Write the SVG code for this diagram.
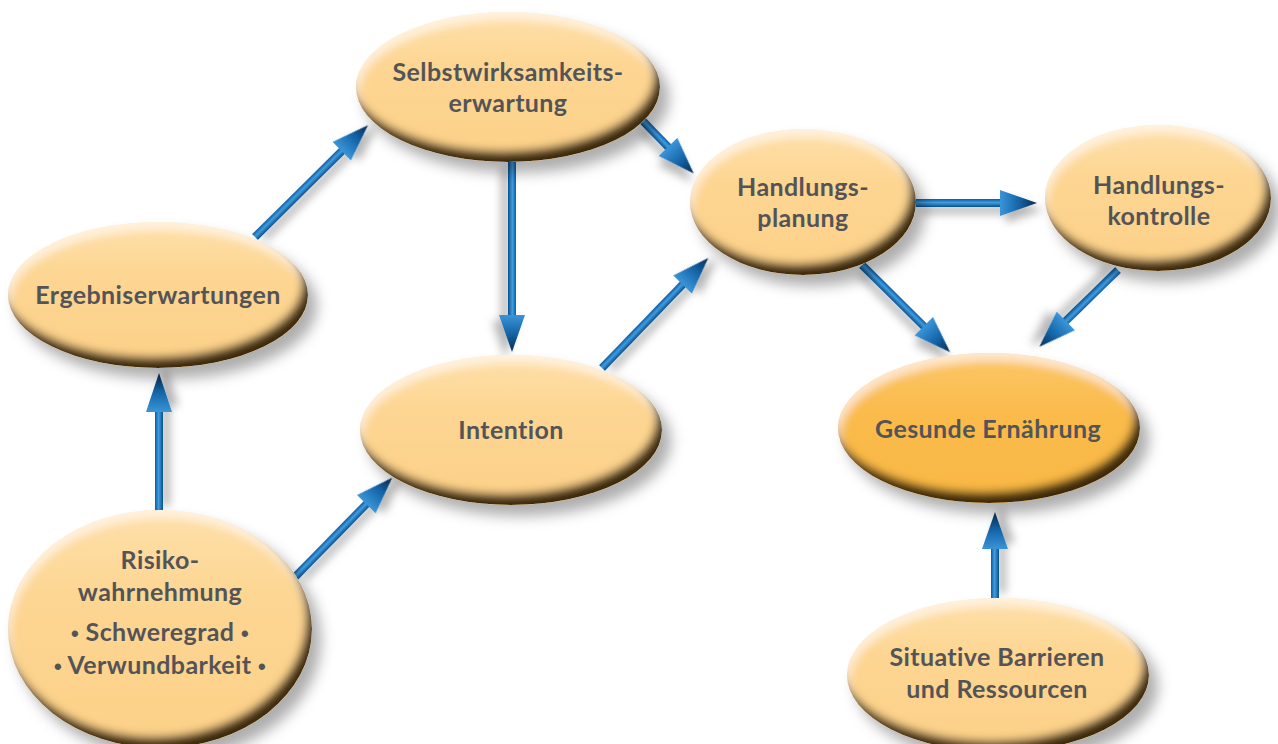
<svg xmlns="http://www.w3.org/2000/svg" width="1278" height="744" viewBox="0 0 1278 744">
<style>
.t{font-family:Lato,"Open Sans","Liberation Sans",sans-serif;font-weight:bold;font-size:25px;letter-spacing:0.4px;fill:#545457;text-anchor:middle}
.b{font-family:"Liberation Sans",sans-serif;font-size:22px}
.n{fill:url(#ng)}
.g{fill:url(#gg)}
</style>
<defs>
<linearGradient id="ng" x1="0" y1="0" x2="0" y2="1">
<stop offset="0" stop-color="#FEE0AA"/><stop offset="0.35" stop-color="#FDD693"/><stop offset="1" stop-color="#FCD088"/>
</linearGradient>
<linearGradient id="gg" x1="0" y1="0" x2="0" y2="1">
<stop offset="0" stop-color="#FCC667"/><stop offset="0.4" stop-color="#FABB4C"/><stop offset="1" stop-color="#F9B845"/>
</linearGradient>
<linearGradient id="shaft" x1="0" y1="0" x2="0" y2="1">
<stop offset="0" stop-color="#0d5a9e"/><stop offset="0.45" stop-color="#3f9de0"/><stop offset="1" stop-color="#0b4f8e"/>
</linearGradient>
<linearGradient id="head" x1="0" y1="0" x2="1" y2="0">
<stop offset="0" stop-color="#3a95d8"/><stop offset="0.5" stop-color="#1465a8"/><stop offset="1" stop-color="#082c55"/>
</linearGradient>
<filter id="nf" x="-20%" y="-20%" width="150%" height="150%">
<feGaussianBlur in="SourceAlpha" stdDeviation="7" result="db"/>
<feOffset in="db" dx="9" dy="11" result="do"/>
<feFlood flood-color="#000" flood-opacity="0.32"/>
<feComposite in2="do" operator="in" result="drop"/>
<feOffset in="SourceAlpha" dx="-6" dy="-11" result="o1"/>
<feGaussianBlur in="o1" stdDeviation="4" result="b1"/>
<feComposite in="SourceAlpha" in2="b1" operator="out" result="rim"/>
<feFlood flood-color="#3e2a0e" flood-opacity="1"/>
<feComposite in2="rim" operator="in" result="rimc"/>
<feOffset in="SourceAlpha" dx="2" dy="8" result="o2"/>
<feGaussianBlur in="o2" stdDeviation="4" result="b2"/>
<feComposite in="SourceAlpha" in2="b2" operator="out" result="hl"/>
<feFlood flood-color="#fff" flood-opacity="0.55"/>
<feComposite in2="hl" operator="in" result="hlc"/>
<feMerge><feMergeNode in="drop"/><feMergeNode in="SourceGraphic"/><feMergeNode in="hlc"/><feMergeNode in="rimc"/></feMerge>
</filter>
<filter id="af" x="-30%" y="-60%" width="160%" height="220%">
<feGaussianBlur in="SourceAlpha" stdDeviation="4" result="b"/>
<feOffset in="b" dx="6" dy="7" result="o"/>
<feFlood flood-color="#000" flood-opacity="0.28"/>
<feComposite in2="o" operator="in" result="s"/>
<feMerge><feMergeNode in="s"/><feMergeNode in="SourceGraphic"/></feMerge>
</filter>
</defs>
<rect width="1278" height="744" fill="#fff"/>
<g id="connectors">
<g transform="translate(255,237) rotate(-44.7)" filter="url(#af)"><path d="M0,-4 H124 V4 H0 Z" fill="url(#shaft)"/><path d="M122,-13 L159,0 L122,13 Z" fill="url(#head)"/></g>
<g transform="translate(643,121) rotate(46)" filter="url(#af)"><path d="M0,-4 H38 V4 H0 Z" fill="url(#shaft)"/><path d="M36,-13 L73,0 L36,13 Z" fill="url(#head)"/></g>
<g transform="translate(512,162) rotate(90)" filter="url(#af)"><path d="M0,-4 H155 V4 H0 Z" fill="url(#shaft)"/><path d="M153,-13 L190,0 L153,13 Z" fill="url(#head)"/></g>
<g transform="translate(602,368) rotate(-46)" filter="url(#af)"><path d="M0,-4 H118 V4 H0 Z" fill="url(#shaft)"/><path d="M116,-13 L153,0 L116,13 Z" fill="url(#head)"/></g>
<g transform="translate(915,203)" filter="url(#af)"><path d="M0,-4 H87 V4 H0 Z" fill="url(#shaft)"/><path d="M85,-13 L122,0 L85,13 Z" fill="url(#head)"/></g>
<g transform="translate(862,265) rotate(44.7)" filter="url(#af)"><path d="M0,-4 H89 V4 H0 Z" fill="url(#shaft)"/><path d="M87,-13 L124,0 L87,13 Z" fill="url(#head)"/></g>
<g transform="translate(1118,270) rotate(135.7)" filter="url(#af)"><path d="M0,-4 H75 V4 H0 Z" fill="url(#shaft)"/><path d="M73,-13 L110,0 L73,13 Z" fill="url(#head)"/></g>
<g transform="translate(159,512) rotate(-90)" filter="url(#af)"><path d="M0,-4 H102 V4 H0 Z" fill="url(#shaft)"/><path d="M100,-13 L139,0 L100,13 Z" fill="url(#head)"/></g>
<g transform="translate(295,577) rotate(-45.6)" filter="url(#af)"><path d="M0,-4 H104 V4 H0 Z" fill="url(#shaft)"/><path d="M102,-13 L139,0 L102,13 Z" fill="url(#head)"/></g>
<g transform="translate(995,599) rotate(-90)" filter="url(#af)"><path d="M0,-4 H52 V4 H0 Z" fill="url(#shaft)"/><path d="M50,-13 L87,0 L50,13 Z" fill="url(#head)"/></g>
</g>
<g id="selbstwirksamkeit">
<ellipse class="n" cx="508" cy="87" rx="152" ry="75" filter="url(#nf)"/>
<text class="t" x="508" y="81">Selbstwirksamkeits-</text>
<text class="t" x="508" y="112">erwartung</text>
</g>
<g id="handlungsplanung">
<ellipse class="n" cx="803" cy="202" rx="113" ry="73" filter="url(#nf)"/>
<text class="t" x="803" y="196">Handlungs-</text>
<text class="t" x="803" y="227">planung</text>
</g>
<g id="handlungskontrolle">
<ellipse class="n" cx="1158" cy="198" rx="113" ry="73" filter="url(#nf)"/>
<text class="t" x="1159" y="194">Handlungs-</text>
<text class="t" x="1159" y="225">kontrolle</text>
</g>
<g id="ergebniserwartungen">
<ellipse class="n" cx="158" cy="295" rx="150" ry="73" filter="url(#nf)"/>
<text class="t" x="158" y="304">Ergebniserwartungen</text>
</g>
<g id="intention">
<ellipse class="n" cx="511" cy="430" rx="151" ry="75" filter="url(#nf)"/>
<text class="t" x="511" y="439">Intention</text>
</g>
<g id="gesunde-ernaehrung">
<ellipse class="g" cx="989" cy="428" rx="151" ry="75" filter="url(#nf)"/>
<text class="t" x="988" y="438">Gesunde Ernährung</text>
</g>
<g id="risikowahrnehmung">
<ellipse class="n" cx="160" cy="629" rx="152" ry="119" filter="url(#nf)"/>
<text class="t" x="160" y="569">Risiko-</text>
<text class="t" x="160" y="601">wahrnehmung</text>
<text class="t" x="160" y="641"><tspan class="b">•</tspan> Schweregrad <tspan class="b">•</tspan></text>
<text class="t" x="160" y="674"><tspan class="b">•</tspan> Verwundbarkeit <tspan class="b">•</tspan></text>
</g>
<g id="situative-barrieren">
<ellipse class="n" cx="998" cy="675" rx="151" ry="77" filter="url(#nf)"/>
<text class="t" x="997" y="666">Situative Barrieren</text>
<text class="t" x="997" y="698">und Ressourcen</text>
</g>
</svg>
